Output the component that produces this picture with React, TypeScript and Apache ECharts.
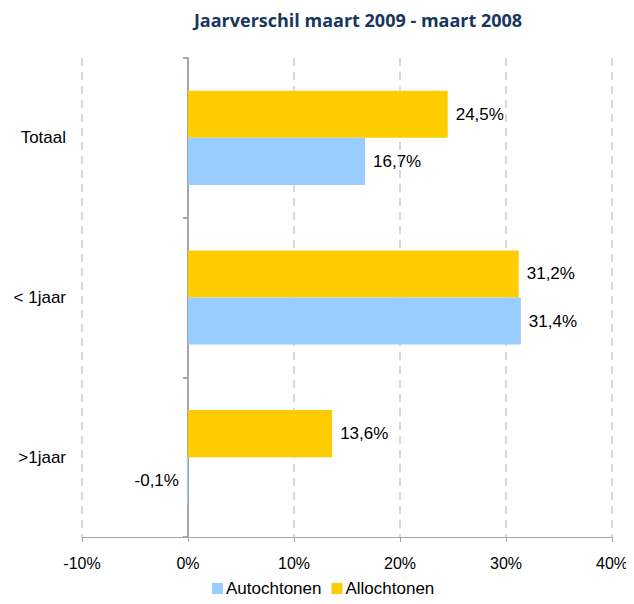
import React, { useEffect, useRef } from "react";
import * as echarts from "echarts";

const categories = [">1jaar", "< 1jaar", "Totaal"];
const autochtonen = [-0.1, 31.4, 16.7];
const allochtonen = [13.6, 31.2, 24.5];
const xTicks = { min: -10, max: 40, interval: 10 };
const titleText = "Jaarverschil maart 2009 - maart 2008";

const fmt = (v: number) => String(v).replace(".", ",") + "%";

export default function App() {
  const ref = useRef<HTMLDivElement>(null);
  useEffect(() => {
    const chart = echarts.init(ref.current!, null, { renderer: "svg" });
    const font = "'Liberation Sans', Arial, sans-serif";
    const mkData = (arr: number[]) =>
      arr.map((v) => ({
        value: v,
        label: { position: v < 0 ? "left" : "right" },
      }));
    const labelCfg = {
      show: true,
      distance: 8,
      formatter: (p: any) => fmt(p.value),
      fontFamily: font,
      fontSize: 17,
      color: "#000",
    };
    chart.setOption({
      animation: false,
      backgroundColor: "#ffffff",
      title: {
        text: titleText,
        left: 353,
        top: 6,
        textAlign: "center",
        textStyle: {
          fontFamily: "'Open Sans', sans-serif",
          fontWeight: "bold",
          fontSize: 18,
          color: "#17375E",
        },
      },
      legend: {
        top: 580,
        left: 212,
        padding: 0,
        itemWidth: 11,
        itemHeight: 11,
        itemGap: 10,
        icon: "rect",
        textStyle: { fontFamily: font, fontSize: 17, color: "#000", padding: [0, 0, 0, -2] },
        data: ["Autochtonen", "Allochtonen"],
      },
      grid: { left: 82, right: 22, top: 58, bottom: 67, containLabel: false, outerBoundsMode: "none" },
      xAxis: {
        type: "value",
        min: xTicks.min,
        max: xTicks.max,
        interval: xTicks.interval,
        axisLine: { show: true, lineStyle: { color: "#A6A6A6", width: 1 } },
        axisTick: { show: true, length: 5, lineStyle: { color: "#A6A6A6" } },
        axisLabel: {
          formatter: (v: number) => v + "%",
          fontFamily: font,
          fontSize: 16,
          color: "#000",
          margin: 18,
        },
        splitLine: {
          show: true,
          lineStyle: { color: "#D9D9D9", type: [8, 6], width: 2 },
        },
      },
      yAxis: {
        type: "category",
        data: categories,
        axisLine: { show: true, onZero: true, lineStyle: { color: "#A6A6A6", width: 2 } },
        axisTick: { show: true, length: 5, lineStyle: { color: "#A6A6A6", width: 2 } },
        axisLabel: {
          fontFamily: font,
          fontSize: 17,
          color: "#000",
          margin: 16,
        },
        splitLine: { show: false },
      },
      series: [
        {
          name: "Allochtonen",
          type: "bar",
          data: mkData(allochtonen),
          itemStyle: { color: "#FFCC00" },
          barGap: "0%",
          barCategoryGap: "41%",
          label: labelCfg,
        },
        {
          name: "Autochtonen",
          type: "bar",
          data: mkData(autochtonen),
          itemStyle: { color: "#99CCFF" },
          barGap: "0%",
          barCategoryGap: "41%",
          label: labelCfg,
        },
      ],
    });
    return () => chart.dispose();
  }, []);
  return <div ref={ref} style={{ width: 634, height: 604, margin: -8 }} />;
}
